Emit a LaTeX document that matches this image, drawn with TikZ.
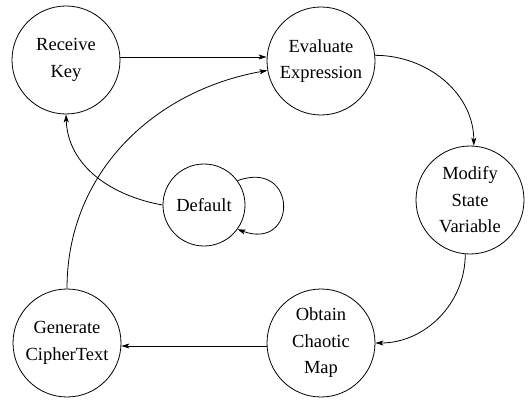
\documentclass[tikz,border=0pt]{standalone}
\usepackage{fontspec}
\setmainfont{Liberation Serif}
\usetikzlibrary{arrows.meta}
\begin{document}
\begin{tikzpicture}[x=1pt,y=-1pt,
  state/.style={draw,circle,line width=0.8pt,minimum size=108pt,inner sep=0pt,
    align=center,font=\fontsize{18.5}{26.5}\selectfont},
  small/.style={state,minimum size=82pt},
  flow/.style={line width=0.8pt,-{Stealth[length=8pt,width=5pt,inset=2pt]}}]
\useasboundingbox (0,0) rectangle (531,401);
\node[state] (rk) at (66,60) {Receive\\Key};
\node[state] (ev) at (321,61) {Evaluate\\Expression};
\node[state] (mv) at (470,200) {Modify\\State\\Variable};
\node[state] (om) at (321,343) {Obtain\\Chaotic\\Map};
\node[state] (gc) at (67,343) {Generate\\CipherText};
\node[small] (df) at (204,205) {Default};
\draw[flow] (rk.east |- 0,57) coordinate (a) -- (ev.west |- a);
\draw[flow] (ev.6) to[out=0,in=90] (mv.86);
\draw[flow] (mv.265) to[out=-90,in=0] (om.east);
\draw[flow] (om.west |- 0,346) coordinate (b) -- (gc.east |- b);
\draw[flow] (gc.north) to[out=90,in=190] (ev.190);
\draw[flow] (df.west) to[out=170,in=-88] (rk.270);
\draw[flow] (df.36) to[out=20,in=-20,looseness=3.4] (df.-36);
\end{tikzpicture}
\end{document}
